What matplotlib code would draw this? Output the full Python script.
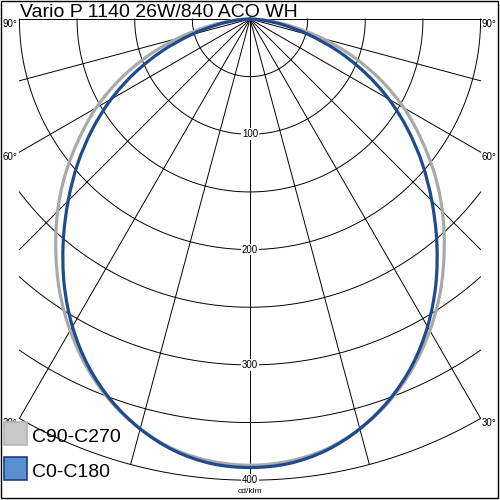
import numpy as np
import matplotlib.pyplot as plt
from matplotlib.patches import Rectangle, PathPatch
from matplotlib.path import Path

plt.rcParams['font.family'] = ['Liberation Sans', 'DejaVu Sans']

title = "Vario P 1140 26W/840 ACO WH"
unit = "cd/klm"

# intensity (cd/klm) against gamma
gamma = [0, 5, 10, 15, 20, 25, 30, 35, 40, 45, 50, 55, 60, 65, 70, 75, 80, 85, 90]
c0_c180 = [389, 387, 380, 368, 352, 332, 308, 281, 252, 223, 195, 167, 139, 110, 81, 53, 29, 11, 0]
c90_c270 = [387, 385, 379, 368, 353, 334, 312, 288, 262, 236, 209, 181, 154, 125, 95, 65, 37, 15, 0]

rings = [50, 100, 150, 200, 250, 300, 350, 400]
ring_labels = [100, 200, 300, 400]
spokes = [-90, -75, -60, -45, -30, -15, 0, 15, 30, 45, 60, 75, 90]
angle_labels = [90, 60, 30]
names = ["C90-C270", "C0-C180"]
colors = ["#a9a9a9", "#1d4b8e"]
box_fill = ["#c8c8c8", "#5b8fd2"]
box_edge = ["#b4b4b4", "#1f3f7f"]

r_max = 400
x_max = 200
px = 1.153  # pixels per cd/klm


def smooth_path(pts):
    # Catmull-Rom through the points, drawn as cubic Bezier pieces
    pts = np.asarray(pts)
    ext = np.vstack([pts[0], pts, pts[-1]])
    verts = [pts[0]]
    codes = [Path.MOVETO]
    for i in range(1, len(ext) - 2):
        p0, p1, p2, p3 = ext[i - 1], ext[i], ext[i + 1], ext[i + 2]
        verts += [p1 + (p2 - p0) / 6, p2 - (p3 - p1) / 6, p2]
        codes += [Path.CURVE4] * 3
    return Path(verts, codes)


fig = plt.figure(figsize=(5, 5), dpi=100)
ax = fig.add_axes([0, 0, 1, 1])
ax.set_xlim(-250 / px, 250 / px)
ax.set_ylim(-481 / px, 19 / px)
ax.axis('off')

# grid circles, cut at |x| = x_max
for r in rings:
    gmax = np.arcsin(min(1.0, x_max / r))
    t = np.linspace(-gmax, gmax, 300)
    ax.plot(r * np.sin(t), -r * np.cos(t), color='black', lw=0.7, zorder=1)

# spokes
for s in spokes:
    a = np.radians(s)
    L = r_max if s == 0 else min(r_max, x_max / abs(np.sin(a)))
    ax.plot([0, L * np.sin(a)], [0, -L * np.cos(a)], color='black', lw=0.7, zorder=1)

# curves
g = np.radians(np.array(gamma, dtype=float))
g_full = np.concatenate([-g[::-1], g[1:]])
for vals, col in zip([c90_c270, c0_c180], colors):
    v = np.array(vals, dtype=float)
    v_full = np.concatenate([v[::-1], v[1:]])
    pts = np.column_stack([v_full * np.sin(g_full), -v_full * np.cos(g_full)])
    ax.add_patch(PathPatch(smooth_path(pts), facecolor='none', edgecolor=col, lw=2.3,
                           joinstyle='round', capstyle='round', zorder=3))

# ring labels
for r in ring_labels:
    ax.text(0, -r, str(r), ha='center', va='center', fontsize=7, zorder=5,
            bbox=dict(facecolor='white', edgecolor='none', pad=0.6))
ax.text(0, -410, unit, ha='center', va='center', fontsize=6, zorder=5)

# angle labels on both sides
for a in angle_labels:
    y = -x_max / np.tan(np.radians(a)) if a != 90 else 0.0
    ax.text(-247 / px, y - 4, f"{a}°", ha='left', va='center', fontsize=7, zorder=5)
    ax.text(232 / px, y - 4, f"{a}°", ha='left', va='center', fontsize=7, zorder=5)

# title
fig.text(20 / 500, 1 - 17 / 500, title, ha='left', va='baseline', fontsize=14)

# legend
for i, (name, fc, ec) in enumerate(zip(names, box_fill, box_edge)):
    top = 422 + i * 35
    fig.patches.append(Rectangle((4 / 500, 1 - (top + 23) / 500), 23 / 500, 23 / 500,
                                 transform=fig.transFigure, facecolor=fc, edgecolor=ec, lw=1.2))
    fig.text(32 / 500, 1 - (top + 20) / 500, name, ha='left', va='baseline', fontsize=14)

# frame
fig.patches.append(Rectangle((1 / 500, 2 / 500), 497 / 500, 497 / 500, transform=fig.transFigure,
                             facecolor='none', edgecolor='black', lw=1))

fig.savefig('out.png', dpi=100)
